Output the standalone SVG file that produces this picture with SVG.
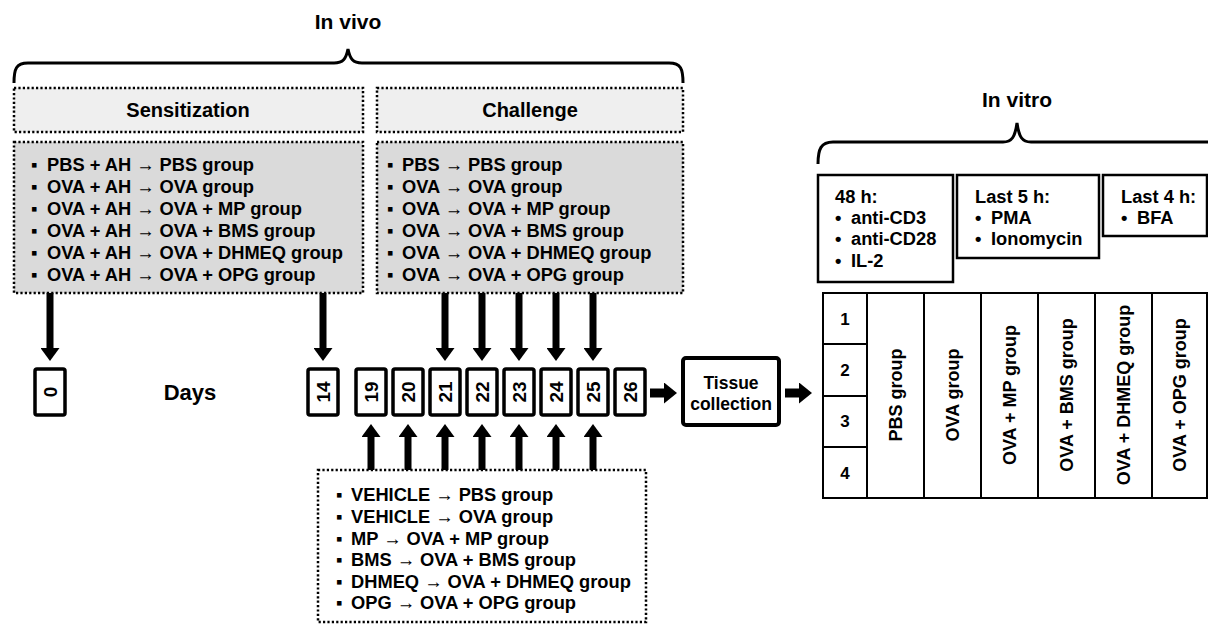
<svg xmlns="http://www.w3.org/2000/svg" width="1208" height="625" viewBox="0 0 1208 625">
<defs>
<style>
.t{font-family:"Liberation Sans",Arial,"DejaVu Sans",sans-serif;font-weight:bold;fill:#000}
.b{font-size:18.3px}
.h{font-size:20px;text-anchor:middle}
.dot{stroke:#000;stroke-width:2.5;stroke-dasharray:2.2 2.2}
.day{fill:#fff;stroke:#000;stroke-width:3.5}
.dn{font-size:19px;text-anchor:middle;dominant-baseline:central}
.cl{font-size:18px;text-anchor:middle;dominant-baseline:central}
.num{font-size:17px;text-anchor:middle;dominant-baseline:central}
.arr{stroke:#000;stroke-width:7;fill:none;marker-end:url(#ah)}
.harr{stroke:#000;stroke-width:9;fill:none;marker-end:url(#ah2)}
.brace{fill:none;stroke:#000;stroke-width:3}
.cell{fill:#fff;stroke:#000;stroke-width:2}
</style>
<marker id="ah" markerUnits="userSpaceOnUse" markerWidth="13" markerHeight="19" refX="0" refY="9.5" orient="auto"><path d="M0,0 L13,9.5 L0,19 z" fill="#000"/></marker>
<marker id="ah2" markerUnits="userSpaceOnUse" markerWidth="13" markerHeight="21" refX="0" refY="10.5" orient="auto"><path d="M0,0 L13,10.5 L0,21 z" fill="#000"/></marker>
</defs>
<rect width="1208" height="625" fill="#fff"/>

<g id="invivo-title">
<text class="t" x="348" y="29" font-size="21" text-anchor="middle">In vivo</text>
<path class="brace" d="M14,83 C14,69 16,63 28,63 L334,63 C343,63 346,59 348,49 C350,59 353,63 362,63 L669,63 C681,63 683,69 683,83"/>
</g>

<g id="sensitization-header">
<rect class="dot" x="14" y="88" width="349" height="44" fill="#efefef"/>
<text class="t h" x="188" y="117">Sensitization</text>
</g>
<g id="challenge-header">
<rect class="dot" x="377" y="88" width="306" height="44" fill="#efefef"/>
<text class="t h" x="530" y="117">Challenge</text>
</g>

<g id="sensitization-body">
<rect class="dot" x="14" y="142" width="349" height="151" fill="#dadada"/>
<text class="t b" y="171"><tspan x="31">▪</tspan><tspan x="47">PBS + AH → PBS group</tspan></text>
<text class="t b" y="193"><tspan x="31">▪</tspan><tspan x="47">OVA + AH → OVA group</tspan></text>
<text class="t b" y="215"><tspan x="31">▪</tspan><tspan x="47">OVA + AH → OVA + MP group</tspan></text>
<text class="t b" y="237"><tspan x="31">▪</tspan><tspan x="47">OVA + AH → OVA + BMS group</tspan></text>
<text class="t b" y="259"><tspan x="31">▪</tspan><tspan x="47">OVA + AH → OVA + DHMEQ group</tspan></text>
<text class="t b" y="281"><tspan x="31">▪</tspan><tspan x="47">OVA + AH → OVA + OPG group</tspan></text>
</g>

<g id="challenge-body">
<rect class="dot" x="377" y="142" width="306" height="151" fill="#dadada"/>
<text class="t b" y="171"><tspan x="387">▪</tspan><tspan x="402">PBS → PBS group</tspan></text>
<text class="t b" y="193"><tspan x="387">▪</tspan><tspan x="402">OVA → OVA group</tspan></text>
<text class="t b" y="215"><tspan x="387">▪</tspan><tspan x="402">OVA → OVA + MP group</tspan></text>
<text class="t b" y="237"><tspan x="387">▪</tspan><tspan x="402">OVA → OVA + BMS group</tspan></text>
<text class="t b" y="259"><tspan x="387">▪</tspan><tspan x="402">OVA → OVA + DHMEQ group</tspan></text>
<text class="t b" y="281"><tspan x="387">▪</tspan><tspan x="402">OVA → OVA + OPG group</tspan></text>
</g>

<g id="treatment-body">
<rect class="dot" x="318" y="470" width="328" height="152" fill="#fff"/>
<text class="t b" y="501"><tspan x="336">▪</tspan><tspan x="351">VEHICLE → PBS group</tspan></text>
<text class="t b" y="523"><tspan x="336">▪</tspan><tspan x="351">VEHICLE → OVA group</tspan></text>
<text class="t b" y="545"><tspan x="336">▪</tspan><tspan x="351">MP → OVA + MP group</tspan></text>
<text class="t b" y="566"><tspan x="336">▪</tspan><tspan x="351">BMS → OVA + BMS group</tspan></text>
<text class="t b" y="588"><tspan x="336">▪</tspan><tspan x="351">DHMEQ → OVA + DHMEQ group</tspan></text>
<text class="t b" y="609"><tspan x="336">▪</tspan><tspan x="351">OPG → OVA + OPG group</tspan></text>
</g>

<g id="day-0"><rect class="day" x="35" y="369" width="30" height="46" rx="2"/><text class="t dn" transform="rotate(-90 50 392)" x="50" y="392">0</text></g>
<g id="days-label"><text class="t" x="190" y="400" font-size="22" text-anchor="middle">Days</text></g>
<g id="day-14"><rect class="day" x="308" y="369" width="30" height="46" rx="2"/><text class="t dn" transform="rotate(-90 323 392)" x="323" y="392">14</text></g>
<g id="day-19"><rect class="day" x="356" y="369" width="30" height="46" rx="2"/><text class="t dn" transform="rotate(-90 371 392)" x="371" y="392">19</text></g>
<g id="day-20"><rect class="day" x="393" y="369" width="30" height="46" rx="2"/><text class="t dn" transform="rotate(-90 408 392)" x="408" y="392">20</text></g>
<g id="day-21"><rect class="day" x="430" y="369" width="30" height="46" rx="2"/><text class="t dn" transform="rotate(-90 445 392)" x="445" y="392">21</text></g>
<g id="day-22"><rect class="day" x="467" y="369" width="30" height="46" rx="2"/><text class="t dn" transform="rotate(-90 482 392)" x="482" y="392">22</text></g>
<g id="day-23"><rect class="day" x="504" y="369" width="30" height="46" rx="2"/><text class="t dn" transform="rotate(-90 519 392)" x="519" y="392">23</text></g>
<g id="day-24"><rect class="day" x="541" y="369" width="30" height="46" rx="2"/><text class="t dn" transform="rotate(-90 556 392)" x="556" y="392">24</text></g>
<g id="day-25"><rect class="day" x="578" y="369" width="30" height="46" rx="2"/><text class="t dn" transform="rotate(-90 593 392)" x="593" y="392">25</text></g>
<g id="day-26"><rect class="day" x="615" y="369" width="30" height="46" rx="2"/><text class="t dn" transform="rotate(-90 630 392)" x="630" y="392">26</text></g>

<g id="tissue-collection">
<rect x="683" y="358" width="96" height="67" rx="3" fill="#fff" stroke="#000" stroke-width="4"/>
<text class="t" x="731" y="389" font-size="17.5" text-anchor="middle">Tissue</text>
<text class="t" x="731" y="410" font-size="17.5" text-anchor="middle">collection</text>
</g>

<g id="invitro-title">
<text class="t" x="1017" y="107" font-size="21" text-anchor="middle">In vitro</text>
<path class="brace" d="M818,164 C818,149 821,142 833,142 L1003,142 C1012,142 1015,137 1017,123 C1019,137 1022,142 1031,142 L1210,142"/>
</g>

<g id="step-48h">
<rect x="818" y="175" width="135" height="107" fill="#fff" stroke="#000" stroke-width="2.5"/>
<text class="t b" x="835" y="203">48 h:</text>
<text class="t b" y="224"><tspan x="835">•</tspan><tspan x="851">anti-CD3</tspan></text>
<text class="t b" y="245"><tspan x="835">•</tspan><tspan x="851">anti-CD28</tspan></text>
<text class="t b" y="267"><tspan x="835">•</tspan><tspan x="851">IL-2</tspan></text>
</g>
<g id="step-last5h">
<rect x="957" y="175" width="142" height="83" fill="#fff" stroke="#000" stroke-width="2.5"/>
<text class="t b" x="975" y="203">Last 5 h:</text>
<text class="t b" y="224"><tspan x="975">•</tspan><tspan x="991">PMA</tspan></text>
<text class="t b" y="245"><tspan x="975">•</tspan><tspan x="991">Ionomycin</tspan></text>
</g>
<g id="step-last4h">
<rect x="1103" y="175" width="104" height="61" fill="#fff" stroke="#000" stroke-width="2.5"/>
<text class="t b" x="1121" y="203">Last 4 h:</text>
<text class="t b" y="224"><tspan x="1121">•</tspan><tspan x="1137">BFA</tspan></text>
</g>

<g id="group-table">
<rect class="cell" x="823" y="293" width="384" height="205"/>
<line x1="867" y1="293" x2="867" y2="498" stroke="#000" stroke-width="2"/>
<line x1="924" y1="293" x2="924" y2="498" stroke="#000" stroke-width="2"/>
<line x1="981" y1="293" x2="981" y2="498" stroke="#000" stroke-width="2"/>
<line x1="1038" y1="293" x2="1038" y2="498" stroke="#000" stroke-width="2"/>
<line x1="1095" y1="293" x2="1095" y2="498" stroke="#000" stroke-width="2"/>
<line x1="1152" y1="293" x2="1152" y2="498" stroke="#000" stroke-width="2"/>
<line x1="823" y1="344" x2="867" y2="344" stroke="#000" stroke-width="2"/>
<line x1="823" y1="396" x2="867" y2="396" stroke="#000" stroke-width="2"/>
<line x1="823" y1="447" x2="867" y2="447" stroke="#000" stroke-width="2"/>
<text class="t num" x="845" y="319">1</text>
<text class="t num" x="845" y="370">2</text>
<text class="t num" x="845" y="421">3</text>
<text class="t num" x="845" y="473">4</text>
<text class="t cl" transform="rotate(-90 895.5 395)" x="895.5" y="395">PBS group</text>
<text class="t cl" transform="rotate(-90 952.5 395)" x="952.5" y="395">OVA group</text>
<text class="t cl" transform="rotate(-90 1009.5 395)" x="1009.5" y="395">OVA + MP group</text>
<text class="t cl" transform="rotate(-90 1066.5 395)" x="1066.5" y="395">OVA + BMS group</text>
<text class="t cl" transform="rotate(-90 1123.5 395)" x="1123.5" y="395">OVA + DHMEQ group</text>
<text class="t cl" transform="rotate(-90 1180 395)" x="1180" y="395">OVA + OPG group</text>
</g>

<g id="connectors">
<line class="arr" x1="50" y1="293" x2="50" y2="348"/>
<line class="arr" x1="323" y1="293" x2="323" y2="348"/>
<line class="arr" x1="445" y1="293" x2="445" y2="348"/>
<line class="arr" x1="482" y1="293" x2="482" y2="348"/>
<line class="arr" x1="519" y1="293" x2="519" y2="348"/>
<line class="arr" x1="556" y1="293" x2="556" y2="348"/>
<line class="arr" x1="593" y1="293" x2="593" y2="348"/>
<line class="arr" x1="371" y1="470" x2="371" y2="437"/>
<line class="arr" x1="408" y1="470" x2="408" y2="437"/>
<line class="arr" x1="445" y1="470" x2="445" y2="437"/>
<line class="arr" x1="482" y1="470" x2="482" y2="437"/>
<line class="arr" x1="519" y1="470" x2="519" y2="437"/>
<line class="arr" x1="556" y1="470" x2="556" y2="437"/>
<line class="arr" x1="593" y1="470" x2="593" y2="437"/>
<line class="harr" x1="650" y1="393" x2="664" y2="393"/>
<line class="harr" x1="785" y1="393" x2="799" y2="393"/>
</g>
</svg>
